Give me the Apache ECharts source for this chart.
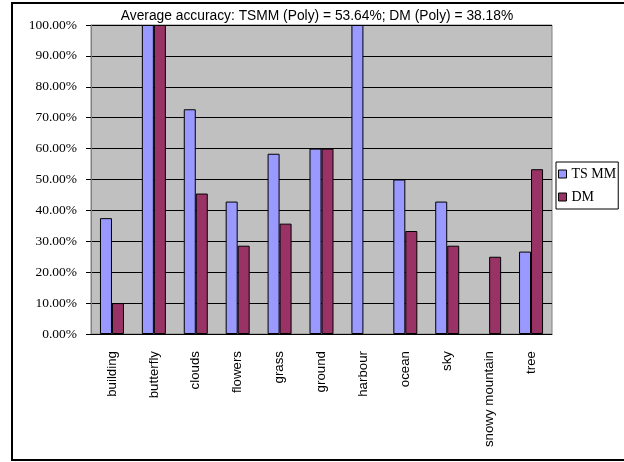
<!DOCTYPE html>
<html>
<head>
<meta charset="utf-8">
<script src="https://cdn.jsdelivr.net/npm/echarts@6/dist/echarts.min.js"></script>
<style>
    html, body {margin: 0; padding: 0; background: #fff;}
    #chart {width: 624px; height: 462px;}
</style>
</head>
<body>
<div id="chart"></div>
<script>
// 类别与两组准确率
var categories = ['building', 'butterfly', 'clouds', 'flowers', 'grass', 'ground',
    'harbour', 'ocean', 'sky', 'snowy mountain', 'tree'];
var tsmm = [0.375, 1.0, 0.7273, 0.4286, 0.5833, 0.6, 1.0, 0.5, 0.4286, 0, 0.2667];
var dm = [0.1, 1.0, 0.4545, 0.2857, 0.3571, 0.6, 0, 0.3333, 0.2857, 0.25, 0.5333];
var seriesNames = ['TS MM', 'DM'];
var titleText = 'Average accuracy: TSMM (Poly) = 53.64%; DM (Poly) = 38.18%';

// 值为0的柱子不画边框
function barData(arr) {
    return arr.map(function (v) {
        return v === 0 ? {value: v, itemStyle: {borderWidth: 0}} : v;
    });
}

var myChart = echarts.init(document.getElementById('chart'));
var option = {
    backgroundColor: '#fff',
    animation: false,
    title: {
        text: titleText,
        left: 312,
        textAlign: 'center',
        top: 4,
        textStyle: {fontFamily: 'Liberation Sans', fontSize: 13.8, fontWeight: 'normal', color: '#000'}
    },
    legend: {
        orient: 'vertical',
        left: 556,
        top: 162,
        padding: [4, 2, 4, 2],
        itemGap: 7,
        itemWidth: 8,
        itemHeight: 8,
        borderColor: '#000',
        borderWidth: 1,
        backgroundColor: '#fff',
        icon: 'rect',
        itemStyle: {borderColor: '#000', borderWidth: 1},
        textStyle: {fontFamily: 'Liberation Serif', fontSize: 14, lineHeight: 16, color: '#000'},
        data: seriesNames
    },
    grid: {
        left: 91,
        right: 72,
        top: 25,
        bottom: 128,
        show: true,
        backgroundColor: '#C0C0C0',
        borderColor: '#808080',
        borderWidth: 1
    },
    xAxis: {
        type: 'category',
        data: categories,
        axisLine: {show: true, lineStyle: {color: '#000', width: 1}},
        axisTick: {show: false},
        axisLabel: {
            rotate: 90,
            margin: 17,
            interval: 0,
            fontFamily: 'Liberation Sans',
            fontSize: 13.3,
            color: '#000'
        }
    },
    yAxis: {
        type: 'value',
        min: 0,
        max: 1,
        interval: 0.1,
        axisLine: {show: true, lineStyle: {color: '#808080'}},
        axisTick: {show: true, length: 5, lineStyle: {color: '#000'}},
        splitLine: {show: true, lineStyle: {color: '#000', width: 1}},
        axisLabel: {
            margin: 14,
            fontFamily: 'Liberation Serif',
            fontSize: 13.5,
            color: '#000',
            formatter: function (v) {
                return (v * 100).toFixed(2) + '%';
            }
        }
    },
    series: [{
        name: seriesNames[0],
        type: 'bar',
        data: barData(tsmm),
        barWidth: 12,
        barGap: '0%',
        itemStyle: {color: '#9999FF', borderColor: '#000', borderWidth: 1}
    }, {
        name: seriesNames[1],
        type: 'bar',
        data: barData(dm),
        barWidth: 12,
        itemStyle: {color: '#993366', borderColor: '#000', borderWidth: 1}
    }],
    graphic: [{
        type: 'rect',
        shape: {x: 12, y: 3, width: 620, height: 457},
        style: {fill: null, stroke: '#000', lineWidth: 2},
        silent: true
    }]
};
option && myChart.setOption(option);
</script>
</body>
</html>
